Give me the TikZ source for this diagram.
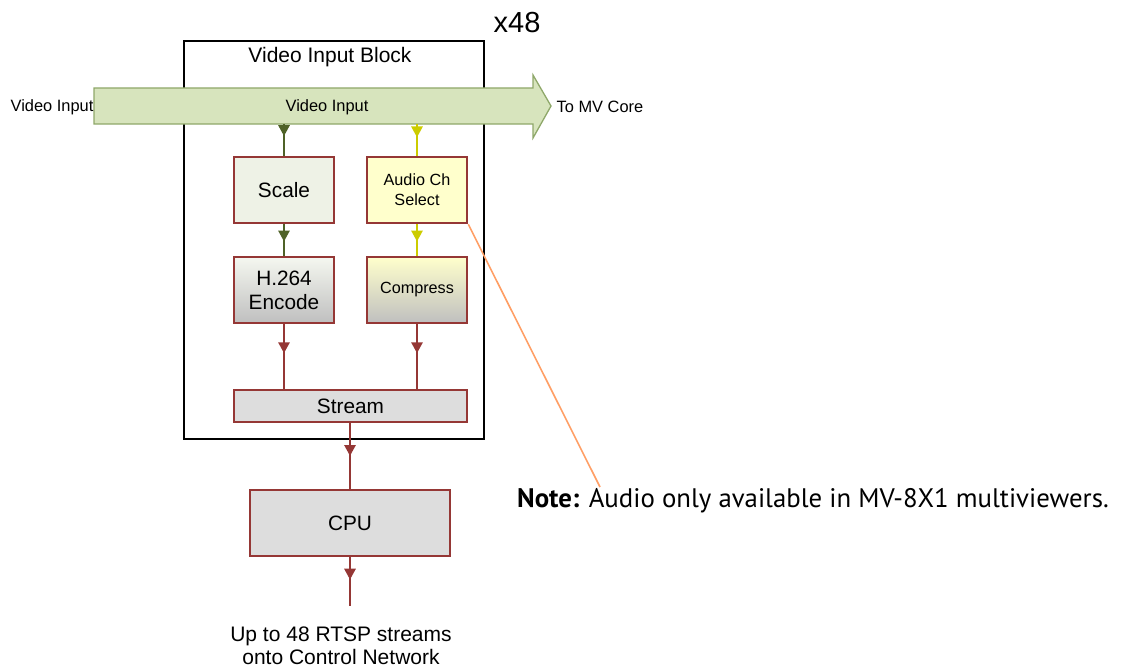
\documentclass[tikz,border=0pt]{standalone}
\usepackage{fontspec}
\setmainfont{Liberation Sans}
\newfontfamily\notefont{PT Sans}
\usepackage{tikz}
\usetikzlibrary{arrows.meta,positioning,decorations.markings}
\definecolor{vibred}{HTML}{953735}
\definecolor{vibgreen}{HTML}{4F6228}
\definecolor{vibyellow}{HTML}{CCCC00}
\definecolor{vibbus}{HTML}{D7E4BD}
\definecolor{vibbusline}{HTML}{8FA86A}
\definecolor{vibscale}{HTML}{EEF2E6}
\definecolor{vibaudio}{HTML}{FFFFCC}
\definecolor{vibgrey}{HTML}{DDDDDD}
\definecolor{vibnote}{HTML}{FF9F66}

\begin{document}
\begin{tikzpicture}[
  x=1pt, y=-1pt,
  lbl/.style={inner sep=0pt, font=\fontsize{16.4}{19}\selectfont},
  box/.style={draw=vibred, line width=2.6pt, minimum width=100pt, minimum height=66pt, align=center, inner sep=0pt, font=\fontsize{20.8}{24}\selectfont},
  smallbox/.style={box, font=\fontsize{16.2}{20}\selectfont},
  flow/.style={line width=2.8pt, postaction={decorate},
    decoration={markings, mark=at position #1 with {\arrow{Triangle[length=11pt,width=11pt]}}}},
  flow/.default=0.5
]
\useasboundingbox (0,0) rectangle (1122,669);

% outer block
\node[draw=black, line width=2.2pt, minimum width=300pt, minimum height=398pt, inner sep=0pt] (blk) at (334,240) {};
\node[inner sep=0pt, font=\fontsize{21}{24}\selectfont] (blkname) at (330,57) {Video Input Block};
\node[inner sep=0pt, font=\fontsize{29}{32}\selectfont] (count) at (517,23) {x48};

% video input bus
\draw[draw=vibbusline, line width=1.3pt, fill=vibbus] (94,88) -- (533,88) -- (533,75) -- (551,106) -- (533,138) -- (533,124) -- (94,124) -- cycle;
\node[minimum width=439pt, minimum height=36pt, inner sep=0pt] (vbus) at (313.5,106) {};
\node[lbl] (vbustext) at (327,107) {Video Input};
\node[lbl] (vin) at (52,107) {Video Input};
\node[lbl] (tocore) at (600,107) {To MV Core};

% processing boxes
\node[box, fill=vibscale] (scale) at (284,190) {Scale};
\node[smallbox, fill=vibaudio] (audio) at (417,190) {Audio Ch\\Select};
\node[box, top color=vibscale!60!white, bottom color=black!25] (encode) at (284,290) {H.264\\Encode};
\node[smallbox, top color=vibaudio, bottom color=black!25] (compress) at (417,290) {Compress};
\node[box, fill=vibgrey, minimum width=233pt, minimum height=32pt] (stream) at (350.5,406) {Stream};
\node[box, fill=vibgrey, minimum width=200pt] (cpu) at (350,523) {CPU};
\coordinate (outend) at (350,606);
\node[inner sep=0pt, align=center, font=\fontsize{21}{23}\selectfont] (outtext) at (341,646) {Up to 48 RTSP streams\\onto Control Network};

% note
\node[anchor=west, inner sep=0pt, font=\notefont\fontsize{26.8}{30}\selectfont] (note) at (517,501) {\textbf{Note:} Audio only available in MV-8X1 multiviewers.};
\coordinate (notetip) at (600,487);

% connectors
\draw[flow=0.38, vibgreen] (vbus.south -| scale.north) -- (scale.north);
\draw[flow=0.42, vibyellow] (vbus.south -| audio.north) -- (audio.north);
\draw[flow=0.55, vibgreen] (scale) -- (encode);
\draw[flow=0.55, vibyellow] (audio) -- (compress);
\draw[flow=0.45, vibred] (encode) -- (stream.north -| encode);
\draw[flow=0.45, vibred] (compress) -- (stream.north -| compress);
\draw[flow, vibred] (stream.south -| cpu.north) -- (cpu);
\draw[flow=0.46, vibred] (cpu) -- (outend);
\draw[vibnote, line width=1.6pt] (audio.south east) -- (notetip);
\end{tikzpicture}
\end{document}
